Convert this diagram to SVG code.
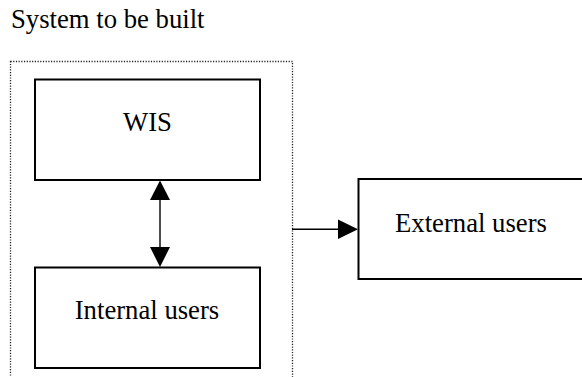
<svg xmlns="http://www.w3.org/2000/svg" width="582" height="377" viewBox="0 0 582 377">
  <style>
    .box { fill: #ffffff; stroke: #000000; stroke-width: 2; }
    .label { font-family: "Liberation Serif", "Times New Roman", serif; font-size: 26.7px; fill: #000000; }
    .edge { stroke: #000000; stroke-width: 1.4; fill: none; }
    .head { fill: #000000; stroke: none; }
    .boundary { fill: none; stroke: #222222; stroke-width: 1.3; stroke-dasharray: 1.2 1.5; }
  </style>

  <rect width="582" height="377" fill="#ffffff"/>

  <text class="label" x="11" y="28.3">System to be built</text>

  <!-- system boundary -->
  <g id="system-boundary">
    <rect class="boundary" x="10.5" y="61.5" width="282" height="330"/>
  </g>

  <g id="wis">
    <rect class="box" x="35" y="79.5" width="225" height="100.5"/>
    <text class="label" x="147.5" y="131" text-anchor="middle">WIS</text>
  </g>

  <g id="internal-users">
    <rect class="box" x="35" y="267.5" width="225" height="100.5"/>
    <text class="label" x="147" y="319.3" text-anchor="middle">Internal users</text>
  </g>

  <g id="external-users">
    <rect class="box" x="358.5" y="179" width="240" height="100"/>
    <text class="label" x="395" y="231.7">External users</text>
  </g>

  <g id="connectors">
    <!-- WIS <-> Internal users -->
    <line class="edge" x1="160" y1="199" x2="160" y2="248"/>
    <polygon class="head" points="160,180.5 150,200 170,200"/>
    <polygon class="head" points="160,267 150,247 170,247"/>
    <!-- boundary -> External users -->
    <line class="edge" x1="292" y1="229.3" x2="339" y2="229.3"/>
    <polygon class="head" points="358,229.3 338,219.5 338,239"/>
  </g>
</svg>
